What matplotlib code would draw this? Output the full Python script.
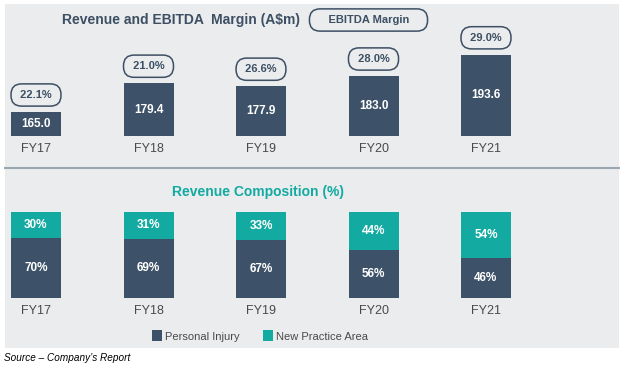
import matplotlib
matplotlib.use("Agg")
import matplotlib.pyplot as plt
from matplotlib.patches import Rectangle

years = ["FY17", "FY18", "FY19", "FY20", "FY21"]
revenue = [165.0, 179.4, 177.9, 183.0, 193.6]
ebitda_margin = ["22.1%", "21.0%", "26.6%", "28.0%", "29.0%"]
personal_injury = [70, 69, 67, 56, 46]
new_practice = [30, 31, 33, 44, 54]

DARK = "#3d5268"
TEAL = "#13aaa1"
BG = "#eaecee"
TXT = "#3d4f63"

W, H = 620, 368
fig = plt.figure(figsize=(W / 100, H / 100), dpi=100)
fig.patch.set_facecolor("white")

def fx(px):
    return px / W

def fy(py):
    return 1 - py / H

# panel background
fig.patches.append(Rectangle((fx(4.5), fy(348)), fx(614), (344) / H,
                             transform=fig.transFigure, facecolor=BG, edgecolor="none", zorder=-2))
# separator
fig.lines.append(plt.Line2D([fx(4.5), fx(618.5)], [fy(168), fy(168)], transform=fig.transFigure,
                            color="#9ca7b2", lw=1.5, zorder=-1))

families = ["Liberation Sans", "DejaVu Sans"]

# x mapping: centre of bar i at pixel 36 + 112.5*i
step = 112.5
x0 = 36
xlim = ((0 - x0) / step, (W - x0) / step)
xs = list(range(len(years)))
bw = 50 / step

pill = dict(boxstyle="round,pad=0.55,rounding_size=0.95", fc=BG, ec=TXT, lw=1.1)

# ---- top axes ----
top_px, bot_px = 5, 136
base = 153.0
k = 2.0
ax1 = fig.add_axes([0, fy(bot_px), 1, (bot_px - top_px) / H])
ax1.set_xlim(*xlim)
ax1.set_ylim(base, base + (bot_px - top_px) / k)
ax1.patch.set_alpha(0)
ax1.bar(xs, [r - base for r in revenue], bottom=base, width=bw, color=DARK)
for x, r, m in zip(xs, revenue, ebitda_margin):
    mid = base + (r - base) / 2
    ax1.text(x, mid, f"{r:.1f}", ha="center", va="center", color="white",
             fontsize=8.5, fontweight="bold", family=families)
    ax1.annotate(" " + m + " ", (x, r), xytext=(0, 17), textcoords="offset pixels",
                 ha="center", va="center", color=TXT, fontsize=8, fontweight="bold",
                 family=families, annotation_clip=False, bbox=pill)
ax1.set_xticks(xs)
ax1.set_xticklabels(years, fontsize=9, color="#4a4a4a", family=families)
ax1.tick_params(axis="x", length=0, pad=5)
ax1.set_yticks([])
for s in ax1.spines.values():
    s.set_visible(False)

fig.text(fx(181), fy(20), "Revenue and EBITDA  Margin (A$m)", ha="center", va="center",
         fontsize=10, fontweight="bold", color=TXT, family=families)
fig.text(fx(368.5), fy(20), "    EBITDA Margin    ", ha="center", va="center",
         fontsize=8, fontweight="bold", color=TXT, family=families, bbox=pill)

# ---- bottom axes ----
top2, bot2 = 212, 298
ax2 = fig.add_axes([0, fy(bot2), 1, (bot2 - top2) / H])
ax2.set_xlim(*xlim)
ax2.set_ylim(0, 100)
ax2.patch.set_alpha(0)
b1 = ax2.bar(xs, personal_injury, width=bw, color=DARK, label="Personal Injury")
b2 = ax2.bar(xs, new_practice, bottom=personal_injury, width=bw, color=TEAL, label="New Practice Area")
for x, p, n in zip(xs, personal_injury, new_practice):
    ax2.text(x, p / 2, f"{p}%", ha="center", va="center", color="white",
             fontsize=8.5, fontweight="bold", family=families)
    ax2.text(x, p + n / 2, f"{n}%", ha="center", va="center", color="white",
             fontsize=8.5, fontweight="bold", family=families)
ax2.set_xticks(xs)
ax2.set_xticklabels(years, fontsize=9, color="#4a4a4a", family=families)
ax2.tick_params(axis="x", length=0, pad=5)
ax2.set_yticks([])
for s in ax2.spines.values():
    s.set_visible(False)

fig.text(fx(258), fy(192), "Revenue Composition (%)", ha="center", va="center",
         fontsize=10, fontweight="bold", color=TEAL, family=families)

leg = fig.legend(handles=[b1, b2], loc="center", bbox_to_anchor=(fx(260), fy(336)), ncol=2,
                 frameon=False, prop=dict(family=families, size=8), handlelength=0.9,
                 handleheight=1.1, handletextpad=0.3, columnspacing=2.1, labelcolor="#4a4a4a")

fig.text(fx(4), fy(358), "Source \u2013 Company\u2019s Report", ha="left", va="center",
         fontsize=7.2, style="italic", color="black", family=["Liberation Sans", "DejaVu Sans"])

fig.savefig("out.png", dpi=100, facecolor="white")
